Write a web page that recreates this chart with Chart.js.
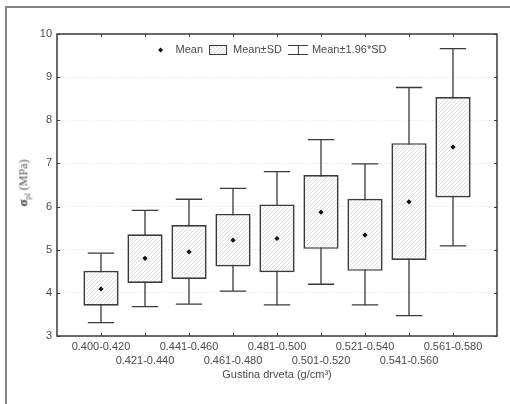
<!DOCTYPE html>
<html>
<head>
  <meta charset="UTF-8">
  <title>Gustina drveta - sigma pl</title>
  <script src="https://cdn.jsdelivr.net/npm/chart.js"></script>
  <style>
    body { margin: 0; width: 510px; height: 404px; overflow: hidden; background: #fff; position: relative; }
    #frame { position: absolute; left: 5px; top: 6px; width: 600px; height: 600px;
             border-left: 2px solid #858585; border-top: 2px solid #858585; }
    #chartBox { position: absolute; left: 0; top: 0; }
    #yTitle { position: absolute; left: 24px; top: 183px; transform: translate(-50%, -50%) rotate(-90deg);
              white-space: nowrap; font-family: "Liberation Serif", serif; font-size: 12px; color: #555; }
    #yTitle b { font-size: 13px; color: #333; }
    #yTitle sub { font-size: 8px; }
  </style>
</head>
<body>
  <div id="frame"></div>
  <div id="chartBox"><canvas id="boxChart" width="510" height="404"></canvas></div>
  <div id="yTitle"><b>σ</b><sub>pl</sub> (MPa)</div>

  <script>
    // density classes (g/cm3)
    const xLabels = ['0.400-0.420', '0.421-0.440', '0.441-0.460', '0.461-0.480', '0.481-0.500',
                     '0.501-0.520', '0.521-0.540', '0.541-0.560', '0.561-0.580'];
    const means  = [4.09, 4.80, 4.95, 5.22, 5.26, 5.87, 5.34, 6.11, 7.38];
    // mean - SD / mean + SD
    const sdLow  = [3.70, 4.23, 4.32, 4.61, 4.48, 5.02, 4.51, 4.76, 6.21];
    const sdHigh = [4.51, 5.36, 5.57, 5.83, 6.05, 6.73, 6.18, 7.47, 8.54];
    // mean - 1.96*SD / mean + 1.96*SD
    const ciLow  = [3.31, 3.68, 3.74, 4.04, 3.72, 4.20, 3.72, 3.47, 5.09];
    const ciHigh = [4.92, 5.91, 6.17, 6.42, 6.81, 7.55, 6.99, 8.76, 9.66];
    const yTicks = [3, 4, 5, 6, 7, 8, 9, 10];

    const xPos = xLabels.map((_, i) => i + 1);
    const capHalf = 0.3;
    const inkColor = '#3a3a3a';
    const textColor = '#4a4a4a';
    const fontFamily = '"Liberation Sans", Arial, sans-serif';

    function hatchPattern(ctx) {
      const c = document.createElement('canvas');
      c.width = 4; c.height = 4;
      const g = c.getContext('2d');
      g.fillStyle = '#fafafa';
      g.fillRect(0, 0, 4, 4);
      g.strokeStyle = '#d6d6d6';
      g.lineWidth = 0.7;
      g.beginPath();
      g.moveTo(0, 4); g.lineTo(4, 0);
      g.moveTo(-1, 1); g.lineTo(1, -1);
      g.moveTo(3, 5); g.lineTo(5, 3);
      g.stroke();
      return ctx.createPattern(c, 'repeat');
    }

    // whisker stems and caps as line segments separated by gaps
    const whiskerData = [];
    xPos.forEach((x, i) => {
      whiskerData.push({ x: x, y: ciLow[i] }, { x: x, y: ciHigh[i] }, { x: x, y: null });
      whiskerData.push({ x: x - capHalf, y: ciHigh[i] }, { x: x + capHalf, y: ciHigh[i] }, { x: x, y: null });
      whiskerData.push({ x: x - capHalf, y: ciLow[i] }, { x: x + capHalf, y: ciLow[i] }, { x: x, y: null });
    });

    // ticks pointing into the plot plus the closed axis box
    const innerTicks = {
      id: 'innerTicks',
      afterDatasetsDraw(chart) {
        const { ctx, chartArea: a, scales } = chart;
        const len = 3;
        ctx.save();
        ctx.strokeStyle = inkColor;
        ctx.lineWidth = 1;
        ctx.beginPath();
        yTicks.forEach(v => {
          const y = Math.round(scales.y.getPixelForValue(v)) + 0.5;
          ctx.moveTo(a.left, y); ctx.lineTo(a.left + len, y);
          ctx.moveTo(a.right, y); ctx.lineTo(a.right - len, y);
        });
        xPos.forEach(v => {
          const x = Math.round(scales.x.getPixelForValue(v)) + 0.5;
          ctx.moveTo(x, a.top); ctx.lineTo(x, a.top + len);
          ctx.moveTo(x, a.bottom); ctx.lineTo(x, a.bottom - len);
        });
        ctx.stroke();
        ctx.lineWidth = 1.5;
        ctx.strokeRect(a.left, a.top, a.right - a.left, a.bottom - a.top);
        ctx.restore();
      }
    };

    // legend drawn inside the top of the plot area
    const insideLegend = {
      id: 'insideLegend',
      afterDraw(chart) {
        const { ctx, chartArea: a } = chart;
        const items = [
          { label: 'Mean', sym: 'mean', w: 6, gap: 12 },
          { label: 'Mean±SD', sym: 'box', w: 18, gap: 6 },
          { label: 'Mean±1.96*SD', sym: 'whisker', w: 20, gap: 4 }
        ];
        const itemGap = 6;
        ctx.save();
        ctx.font = '11px ' + fontFamily;
        ctx.textBaseline = 'middle';
        let total = 0;
        items.forEach((it, k) => {
          it.tw = ctx.measureText(it.label).width;
          total += it.w + it.gap + it.tw + (k ? itemGap : 0);
        });
        let x = (a.left + a.right) / 2 - total / 2 - 5;
        const y = a.top + 16;
        items.forEach((it, k) => {
          if (k) x += itemGap;
          ctx.strokeStyle = inkColor;
          ctx.fillStyle = '#111';
          if (it.sym === 'mean') {
            const cx = x + it.w / 2;
            ctx.beginPath();
            ctx.moveTo(cx, y - 2.5); ctx.lineTo(cx + 2.5, y); ctx.lineTo(cx, y + 2.5); ctx.lineTo(cx - 2.5, y);
            ctx.closePath(); ctx.fill();
          } else if (it.sym === 'box') {
            ctx.fillStyle = hatchPattern(ctx);
            ctx.fillRect(x, y - 4.5, it.w, 9);
            ctx.lineWidth = 1;
            ctx.strokeRect(x + 0.5, y - 4.5, it.w - 1, 9);
          } else {
            ctx.lineWidth = 1;
            ctx.beginPath();
            ctx.moveTo(x, y - 4.5); ctx.lineTo(x + it.w, y - 4.5);
            ctx.moveTo(x + it.w / 2 + 0.5, y - 4.5); ctx.lineTo(x + it.w / 2 + 0.5, y + 4.5);
            ctx.moveTo(x, y + 4.5); ctx.lineTo(x + it.w, y + 4.5);
            ctx.stroke();
          }
          x += it.w + it.gap;
          ctx.fillStyle = textColor;
          ctx.fillText(it.label, x, y);
          x += it.tw;
        });
        ctx.restore();
      }
    };

    const canvas = document.getElementById('boxChart');
    const ctx = canvas.getContext('2d');

    new Chart(ctx, {
      type: 'bar',
      data: {
        datasets: [
          {
            label: 'Mean',
            type: 'line',
            data: xPos.map((x, i) => ({ x: x, y: means[i] })),
            showLine: false,
            pointStyle: 'rectRot',
            pointRadius: 2.6,
            pointBackgroundColor: '#111',
            pointBorderWidth: 0,
            order: 0
          },
          {
            label: 'Mean±SD',
            data: xPos.map((x, i) => ({ x: x, y: [sdLow[i], sdHigh[i]] })),
            backgroundColor: hatchPattern(ctx),
            borderColor: inkColor,
            borderWidth: 1.7,
            borderSkipped: false,
            categoryPercentage: 0.8,
            barPercentage: 1,
            order: 1
          },
          {
            label: 'Mean±1.96*SD',
            type: 'line',
            data: whiskerData,
            borderColor: inkColor,
            borderWidth: 1.3,
            pointRadius: 0,
            spanGaps: false,
            order: 2
          }
        ]
      },
      options: {
        responsive: false,
        animation: false,
        devicePixelRatio: 1,
        layout: { padding: { top: 34, right: 13, left: 0, bottom: 0 } },
        plugins: {
          legend: { display: false },
          tooltip: { enabled: false }
        },
        scales: {
          x: {
            type: 'linear',
            offset: false,
            min: 0,
            max: 10,
            grid: { display: false, drawTicks: false, offset: false },
            border: { display: false },
            ticks: {
              stepSize: 1,
              autoSkip: false,
              maxRotation: 0,
              padding: 4,
              color: textColor,
              font: { family: fontFamily, size: 11, lineHeight: 1.27 },
              callback: v => {
                const label = xLabels[v - 1];
                if (!label) return '';
                return v % 2 ? [label] : ['', label];
              }
            },
            title: {
              display: true,
              text: 'Gustina drveta (g/cm³)',
              color: textColor,
              font: { family: fontFamily, size: 11 },
              padding: { top: 0, bottom: 22 }
            },
            afterFit: s => { s.height = 68; }
          },
          y: {
            min: 3,
            max: 10,
            grid: { color: 'rgba(0,0,0,0.11)', drawTicks: false, lineWidth: 1 },
            border: { display: false, dash: [1, 2] },
            ticks: {
              stepSize: 1,
              padding: 5,
              color: textColor,
              font: { family: fontFamily, size: 11 }
            },
            afterFit: s => { s.width = 57; }
          }
        }
      },
      plugins: [innerTicks, insideLegend]
    });
  </script>
</body>
</html>
